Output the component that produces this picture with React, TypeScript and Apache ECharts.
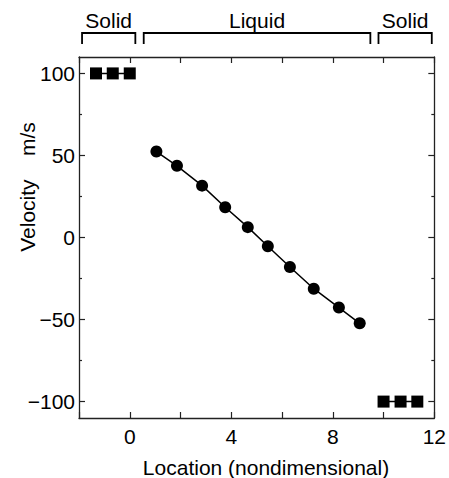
import React, { useEffect, useRef } from "react";
import * as echarts from "echarts";

const solidLeft: [number, number][] = [[-1.33, 100], [-0.67, 100], [0, 100]];
const solidRight: [number, number][] = [[10, -100], [10.67, -100], [11.33, -100]];
const liquidX = [1.05, 1.86, 2.85, 3.76, 4.65, 5.44, 6.31, 7.25, 8.24, 9.06];
const liquidY = [52.4, 43.7, 31.6, 18.4, 6.3, -5.3, -18.0, -31.2, -42.7, -52.3];
const xLabels = [0, 4, 8, 12];
const yLabels = [-100, -50, 0, 50, 100];
const yMinor = [-75, -25, 25, 75];
const regions: { from: number; to: number; label: string }[] = [
  { from: -1.88, to: 0.22, label: "Solid" },
  { from: 0.55, to: 9.48, label: "Liquid" },
  { from: 9.8, to: 11.9, label: "Solid" },
];
const xTitle = "Location (nondimensional)";
const yTitle = "Velocity\u00A0\u00A0\u00A0\u00A0m/s";

const FONT = "'Liberation Sans', Arial, sans-serif";
const FS = 21;
const INK = "#000";
const AXIS = "#222";

export default function App() {
  const ref = useRef<HTMLDivElement>(null);
  useEffect(() => {
    document.body.style.margin = "0";
    if (!ref.current) return;
    const chart = echarts.init(ref.current, null, { renderer: "svg" });
    const axisLine = { show: true, onZero: false, lineStyle: { color: AXIS, width: 1.3 } };
    const noLine = { show: false, onZero: false };
    const tick = (len: number, values?: number[]) => ({
      show: true,
      inside: true,
      length: len,
      lineStyle: { color: AXIS, width: 1.2 },
      ...(values ? { customValues: values } : {}),
    });
    const xBase = {
      type: "value" as const,
      min: -2,
      max: 12,
      interval: 2,
      splitLine: { show: false },
      axisLine,
      axisTick: tick(6),
    };
    const yBase = {
      type: "value" as const,
      min: -110,
      max: 110,
      splitLine: { show: false },
      minorTick: { show: false },
    };
    chart.setOption({
      animation: false,
      grid: { left: 79, right: 12, top: 57, bottom: 60 },
      xAxis: [
        {
          ...xBase,
          position: "bottom",
          axisLabel: {
            show: true,
            fontSize: FS,
            fontFamily: FONT,
            color: INK,
            margin: 8,
            showMinLabel: true,
            showMaxLabel: true,
            formatter: (v: number) => (xLabels.includes(v) ? String(v) : ""),
          },
        },
        { ...xBase, position: "top", axisLabel: { show: false } },
      ],
      yAxis: [
        {
          ...yBase,
          position: "left",
          axisLine,
          axisTick: tick(6, yLabels),
          axisLabel: {
            show: true,
            fontSize: FS,
            fontFamily: FONT,
            color: INK,
            margin: 4,
            customValues: yLabels,
            formatter: (v: number) => (v < 0 ? "\u2212" + Math.abs(v) : String(v)),
          },
        },
        {
          ...yBase,
          position: "right",
          axisLine,
          axisTick: tick(6, yLabels),
          axisLabel: { show: false },
        },
        {
          ...yBase,
          position: "left",
          axisLine: noLine,
          axisTick: tick(3, yMinor),
          axisLabel: { show: false },
        },
        {
          ...yBase,
          position: "right",
          axisLine: noLine,
          axisTick: tick(3, yMinor),
          axisLabel: { show: false },
        },
      ],
      series: [
        {
          type: "line",
          data: solidLeft,
          symbol: "rect",
          symbolSize: 12,
          lineStyle: { color: INK, width: 1.5 },
          itemStyle: { color: INK },
        },
        {
          type: "line",
          data: solidRight,
          symbol: "rect",
          symbolSize: 12,
          lineStyle: { color: INK, width: 1.5 },
          itemStyle: { color: INK },
        },
        {
          type: "line",
          data: liquidX.map((x, i) => [x, liquidY[i]]),
          symbol: "circle",
          symbolSize: 12,
          lineStyle: { color: INK, width: 1.5 },
          itemStyle: { color: INK },
        },
      ],
    });

    const graphics: any[] = [];
    regions.forEach((r) => {
      const x1 = chart.convertToPixel({ xAxisIndex: 0 }, r.from) as number;
      const x2 = chart.convertToPixel({ xAxisIndex: 0 }, r.to) as number;
      graphics.push({
        type: "polyline",
        shape: { points: [[x1, 44], [x1, 33], [x2, 33], [x2, 44]] },
        style: { stroke: INK, lineWidth: 1.8, fill: "none" },
      });
      graphics.push({
        type: "text",
        x: (x1 + x2) / 2,
        y: 20,
        style: { text: r.label, fontSize: FS, fontFamily: FONT, fill: INK, textAlign: "center", textVerticalAlign: "middle" },
      });
    });
    graphics.push({
      type: "text",
      x: 266,
      y: 467,
      style: { text: xTitle, fontSize: FS, fontFamily: FONT, fill: INK, textAlign: "center", textVerticalAlign: "middle" },
    });
    graphics.push({
      type: "text",
      x: 27,
      y: 187,
      rotation: Math.PI / 2,
      style: { text: yTitle, fontSize: FS, fontFamily: FONT, fill: INK, textAlign: "center", textVerticalAlign: "middle" },
    });
    chart.setOption({ graphic: graphics });
    return () => chart.dispose();
  }, []);
  return <div ref={ref} style={{ width: 449, height: 478 }} />;
}
